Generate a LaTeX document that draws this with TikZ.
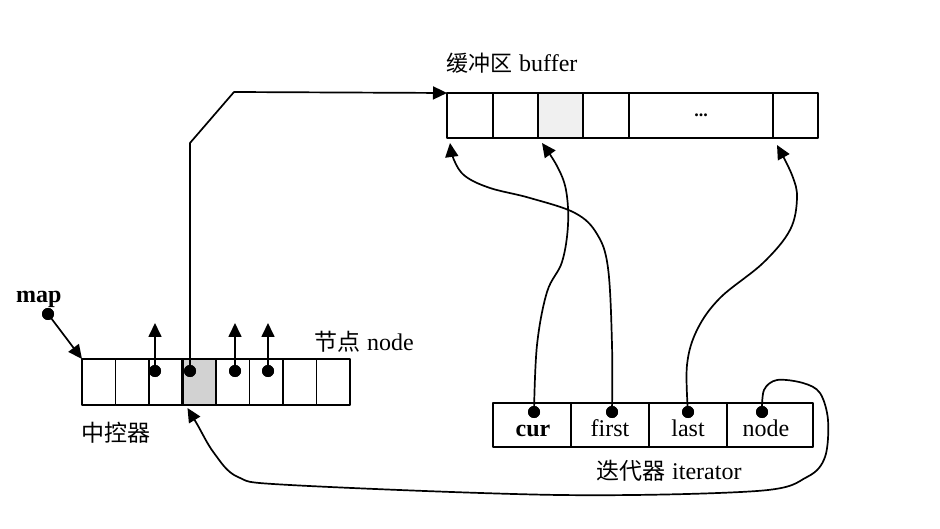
\documentclass[tikz,border=0pt]{standalone}
\usepackage{fontspec}
\setmainfont{Liberation Serif}
\newfontfamily\cjk{Noto Sans CJK SC}
\usetikzlibrary{arrows.meta,calc}
\begin{document}
\begin{tikzpicture}[x=1pt,y=-1pt,line join=round,
  box/.style={draw,line width=1.5pt,minimum height=46pt,inner sep=0pt,outer sep=0pt,anchor=north west},
  ibox/.style={draw,line width=1.5pt,minimum height=44pt,inner sep=0pt,outer sep=0pt,anchor=north west},
  dot/.style={circle,fill=black,minimum size=12pt,inner sep=0pt},
  conn/.style={line width=1.7pt,-{Triangle[length=14pt,width=13pt]}},
  lbl/.style={font=\fontsize{24}{26}\selectfont,inner sep=0pt},
  clbl/.style={font=\cjk\fontsize{23}{26}\selectfont,inner sep=0pt}]
\path[use as bounding box] (0,0) rectangle (940,529);

% map (central controller)
\foreach \i in {1,...,8}
  \node[box,minimum width=33.5pt] (m\i) at ({82+33.5*(\i-1)},359) {};
\node[box,minimum width=33.5pt,fill=gray!35,line width=2.2pt] (m4) at (182.5,359) {};

% buffer
\foreach \i/\a/\b in {1/447/493,2/493/538,3/538/583,4/583/629,5/629/773,6/773/818}
  \node[box,minimum height=45pt,minimum width={(\b-\a)*1pt}] (b\i) at (\a,93) {};
\node[box,minimum height=45pt,minimum width=45pt,fill=gray!12] (b3) at (538,93) {};
\node[inner sep=0pt,font=\bfseries\fontsize{18}{18}\selectfont] (dots) at (b5.center) {...};

% iterator
\foreach \i/\a/\b in {1/493/571,2/571/649,3/649/727,4/727/813}
  \node[ibox,minimum width={(\b-\a)*1pt}] (it\i) at (\a,403) {};
\node[lbl,anchor=base,font=\bfseries\fontsize{24}{26}\selectfont] (tcur) at (533,436) {cur};
\node[lbl,anchor=base] (tfirst) at (610,436) {first};
\node[lbl,anchor=base] (tlast) at (688,436) {last};
\node[lbl,anchor=base] (tnode) at (766,436) {node};

% labels
\node[anchor=base west,inner sep=0pt] (lbuf) at (446,72) {{\cjk\fontsize{22}{26}\selectfont 缓冲区}\hspace{7pt}{\fontsize{24}{26}\selectfont buffer}};
\node[anchor=base west,inner sep=0pt] (lnode) at (314,351) {{\cjk\fontsize{23}{26}\selectfont 节点}\hspace{7pt}{\fontsize{24}{26}\selectfont node}};
\node[anchor=base west,clbl] (lctl) at (81,441) {中控器};
\node[anchor=base west,inner sep=0pt] (lit) at (596,479) {{\cjk\fontsize{23}{26}\selectfont 迭代器}\hspace{7pt}{\fontsize{24}{26}\selectfont iterator}};
\node[anchor=base west,lbl,font=\bfseries\fontsize{24}{26}\selectfont] (lmap) at (16,303) {map};

% dots
\node[dot] (dmap) at (48,314) {};
\node[dot] (d3) at (155,371) {};
\node[dot] (d4) at (190,371) {};
\node[dot] (d5) at (235,371) {};
\node[dot] (d6) at (268,371) {};
\node[dot] (dc) at (534,412) {};
\node[dot] (df) at (612,412) {};
\node[dot] (dl) at (688,412) {};
\node[dot] (dn) at (762,412) {};

% free ends of the node pointers
\coordinate (u3) at (155,323);
\coordinate (u5) at (235,323);
\coordinate (u6) at (268,323);

% connectors
\draw[conn] (dmap.center) -- (m1.north west);
\draw[conn] (d3.center) -- (u3);
\draw[conn] (d5.center) -- (u5);
\draw[conn] (d6.center) -- (u6);
\draw[conn] (d4.center) -- (190,143) -- (234,92) -- (b1.north west);

\draw[conn] plot[smooth,tension=0.6] coordinates {(dc.center) (537,345) (547,292) (562,262) (568,225) (566,190) (557,166) ($(b3.south west)+(4,5)$)};
\draw[conn] plot[smooth,tension=0.6] coordinates {(df.center) (612,345) (608,268) (597,234) (575,213) (530,198) (490,188) (465,176) (454,160) ($(b1.south west)+(3,5)$)};
\draw[conn] plot[smooth,tension=0.6] coordinates {(dl.center) (687,365) (697,330) (720,298) (763,263) (790,230) (797,198) (792,175) ($(b6.south west)+(4,7)$)};
\draw[conn] plot[smooth,tension=0.55] coordinates {(dn.center) (764,390) (777,380) (803,383) (820,393) (828,420) (825,457) (807,477) (757,491) (560,495) (290,485) (238,477) (214,453) (197,424) ($(m4.south west)+(5,3)$)};

% redraw dots on top
\foreach \d in {dmap,d3,d4,d5,d6,dc,df,dl,dn}
  \fill (\d) circle (6pt);
\end{tikzpicture}
\end{document}
